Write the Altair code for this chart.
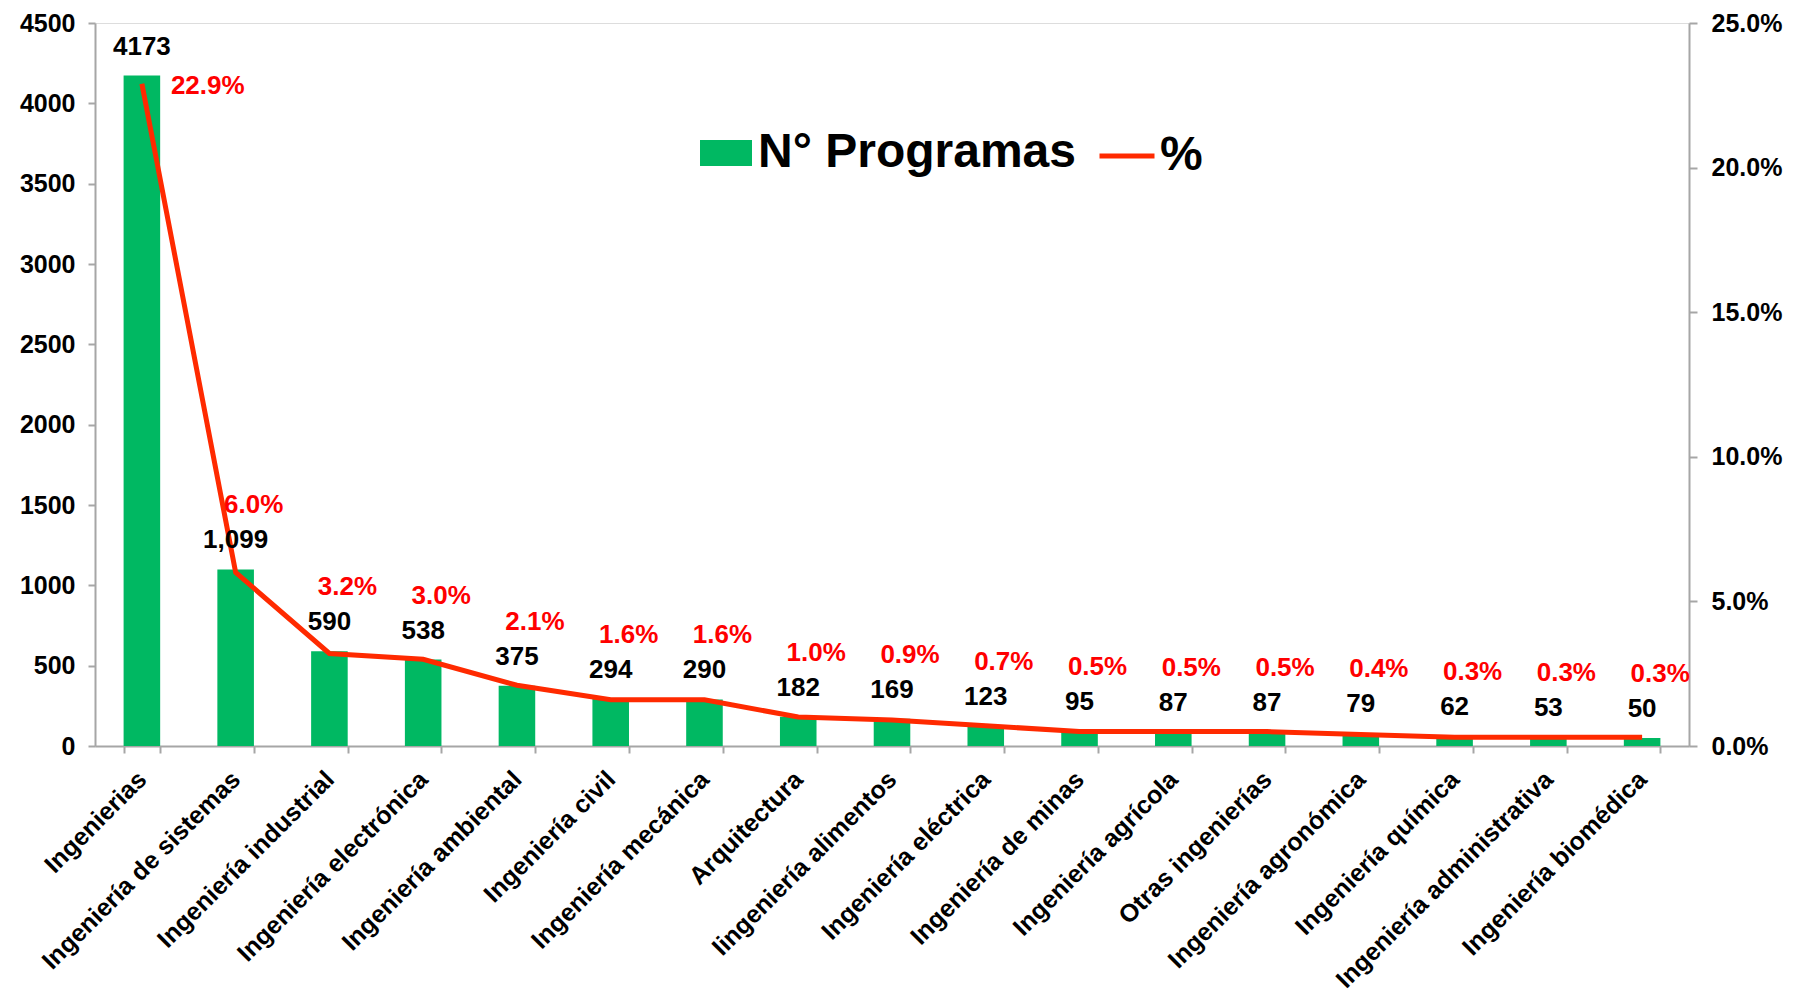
import altair as alt
import pandas as pd

categories = [
    "Ingenierias", "Ingeniería de sistemas", "Ingeniería industrial",
    "Ingeniería electrónica", "Ingeniería ambiental", "Ingeniería civil",
    "Ingeniería mecánica", "Arquitectura", "Iingeniería alimentos",
    "Ingeniería eléctrica", "Ingeniería de minas", "Ingeniería agrícola",
    "Otras ingenierías", "Ingeniería agronómica", "Ingeniería química",
    "Ingeniería administrativa", "Ingeniería biomédica",
]
programas = [4173, 1099, 590, 538, 375, 294, 290, 182, 169, 123, 95, 87, 87, 79, 62, 53, 50]
programas_labels = ["4173", "1,099", "590", "538", "375", "294", "290", "182", "169",
                    "123", "95", "87", "87", "79", "62", "53", "50"]
porcentaje = [22.9, 6.0, 3.2, 3.0, 2.1, 1.6, 1.6, 1.0, 0.9, 0.7, 0.5, 0.5, 0.5, 0.4, 0.3, 0.3, 0.3]
y_ticks = [0, 500, 1000, 1500, 2000, 2500, 3000, 3500, 4000, 4500]
pct_ticks = [0, 5, 10, 15, 20, 25]

df = pd.DataFrame({
    "cat": categories,
    "n": programas,
    "n_label": programas_labels,
    "pct": porcentaje,
    "idx": list(range(len(categories))),
})
df["serie_bar"] = "N° Programas"
df["serie_line"] = "%"

FONT = "Liberation Sans"
GREEN = "#00B862"
RED_LINE = "#FF2A00"
RED_TEXT = "#FF0000"
GRAY = "#A6A6A6"

base = alt.Chart(df).transform_calculate(
    pct_label="format(datum.pct, '.1f') + '%'"
)

x_enc = alt.X(
    "cat:N", sort=categories,
    scale=alt.Scale(paddingInner=0.61, paddingOuter=0.305),
    axis=alt.Axis(
        title=None, labelAngle=-45, labelAlign="right", labelBaseline="middle",
        labelFont=FONT, labelFontSize=25, labelFontWeight="bold", labelColor="black",
        labelPadding=22, labelLimit=700, labelOverlap=False,
        tickBand="extent", tickSize=7, tickColor=GRAY, tickWidth=2,
        domainColor=GRAY, domainWidth=2, grid=False,
    ),
)

left_scale = alt.Scale(domain=[0, 4500], nice=False, zero=True)
right_scale = alt.Scale(domain=[0, 25], nice=False, zero=True)

bars = base.mark_bar().encode(
    x=x_enc,
    y=alt.Y("n:Q", scale=left_scale, axis=alt.Axis(
        title=None, values=y_ticks, format="d",
        labelFont=FONT, labelFontSize=25, labelFontWeight="bold", labelColor="black",
        labelPadding=13, tickSize=7, tickColor=GRAY, tickWidth=2,
        domainColor=GRAY, domainWidth=2, grid=False,
    )),
    fill=alt.Fill("serie_bar:N", scale=alt.Scale(range=[GREEN]), legend=alt.Legend(
        title=None, orient="none", legendX=605, legendY=104,
        symbolType="M-1,-0.5H1V0.5H-1Z", symbolSize=2704, symbolStrokeWidth=0,
        symbolOpacity=1, padding=0,
        labelFont=FONT, labelFontSize=48, labelFontWeight="bold", labelColor="black",
        labelOffset=6, labelLimit=700,
    )),
)

line = base.mark_line(strokeWidth=5).encode(
    x=x_enc,
    y=alt.Y("pct:Q", scale=right_scale, axis=alt.Axis(
        title=None, orient="right", values=pct_ticks,
        labelExpr="format(datum.value, '.1f') + '%'",
        labelFont=FONT, labelFontSize=25, labelFontWeight="bold", labelColor="black",
        labelPadding=14, tickSize=8, tickColor=GRAY, tickWidth=2,
        domainColor=GRAY, domainWidth=2, grid=False,
    )),
    stroke=alt.Stroke("serie_line:N", scale=alt.Scale(range=[RED_LINE]), legend=alt.Legend(
        title=None, orient="none", legendX=1002, legendY=103,
        symbolType="stroke", symbolSize=3025, symbolStrokeWidth=5, padding=0,
        labelFont=FONT, labelFontSize=48, labelFontWeight="bold", labelColor="black",
        labelOffset=3, labelLimit=700,
    )),
)

text_style = dict(font=FONT, fontSize=26, fontWeight="bold", baseline="middle")

bar_text = base.mark_text(color="black", dy=-29, **text_style).encode(
    x=x_enc,
    y=alt.Y("n:Q", scale=left_scale, axis=None),
    text="n_label:N",
)

red_first = base.transform_filter("datum.idx == 0").mark_text(
    color=RED_TEXT, align="left", dx=29, dy=10, **text_style
).encode(
    x=x_enc,
    y=alt.Y("n:Q", scale=left_scale, axis=None),
    text="pct_label:N",
)

red_rest = base.transform_filter("datum.idx > 0").mark_text(
    color=RED_TEXT, align="center", dx=18, dy=-64, **text_style
).encode(
    x=x_enc,
    y=alt.Y("n:Q", scale=left_scale, axis=None),
    text="pct_label:N",
)

chart = alt.layer(bars, line, bar_text, red_first, red_rest).resolve_scale(
    y="independent"
).properties(
    width=1594, height=723,
    autosize=alt.AutoSizeParams(type="none"),
    padding={"left": 87, "top": 15, "right": 97, "bottom": 247},
).configure_view(stroke=None).configure(background="white")

chart.save("out.html", embed_options={"renderer": "svg", "actions": False})
